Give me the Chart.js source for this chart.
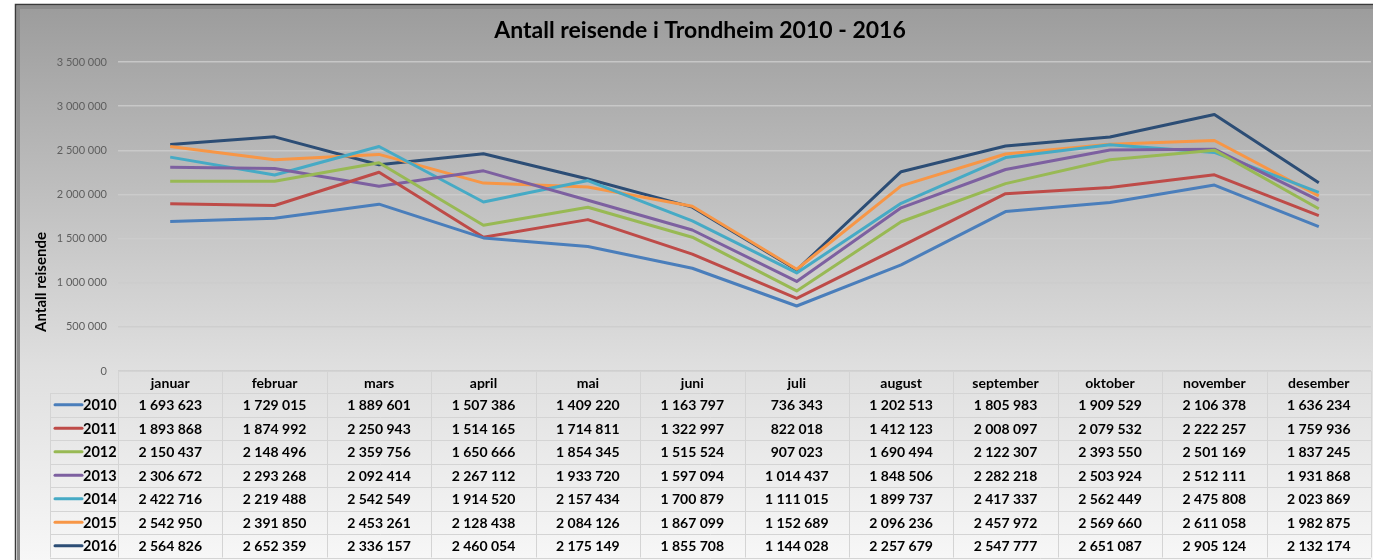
<!DOCTYPE html>
<html>
<head>
<meta charset="utf-8">
<script src="https://cdn.jsdelivr.net/npm/chart.js@4.4.1/dist/chart.umd.min.js"></script>
<style>
  html, body { margin: 0; padding: 0; background: #fff; }
  #wrap { width: 1373px; height: 560px; position: relative; }
</style>
</head>
<body>
<div id="wrap"><canvas id="reiseChart"></canvas></div>
<script>
const months = ["januar", "februar", "mars", "april", "mai", "juni", "juli", "august", "september", "oktober", "november", "desember"];
const years = ["2010", "2011", "2012", "2013", "2014", "2015", "2016"];

const y2010 = [1693623, 1729015, 1889601, 1507386, 1409220, 1163797, 736343, 1202513, 1805983, 1909529, 2106378, 1636234];
const y2011 = [1893868, 1874992, 2250943, 1514165, 1714811, 1322997, 822018, 1412123, 2008097, 2079532, 2222257, 1759936];
const y2012 = [2150437, 2148496, 2359756, 1650666, 1854345, 1515524, 907023, 1690494, 2122307, 2393550, 2501169, 1837245];
const y2013 = [2306672, 2293268, 2092414, 2267112, 1933720, 1597094, 1014437, 1848506, 2282218, 2503924, 2512111, 1931868];
const y2014 = [2422716, 2219488, 2542549, 1914520, 2157434, 1700879, 1111015, 1899737, 2417337, 2562449, 2475808, 2023869];
const y2015 = [2542950, 2391850, 2453261, 2128438, 2084126, 1867099, 1152689, 2096236, 2457972, 2569660, 2611058, 1982875];
const y2016 = [2564826, 2652359, 2336157, 2460054, 2175149, 1855708, 1144028, 2257679, 2547777, 2651087, 2905124, 2132174];

const seriesValues = [y2010, y2011, y2012, y2013, y2014, y2015, y2016];
const seriesColors = ["#4a7ebb", "#be4b48", "#98b954", "#7d60a0", "#46aac5", "#f79646", "#2c4d75"];

const chartTitle = "Antall reisende i Trondheim 2010 - 2016";
const fontFam = "Lato, 'Open Sans', sans-serif";

function fmt(n) {
  return String(n).replace(/\B(?=(\d{3})+(?!\d))/g, " ");
}

// frame + gradient background
const backdrop = {
  id: "backdrop",
  beforeDraw(chart) {
    const ctx = chart.ctx;
    ctx.save();
    ctx.fillStyle = "#ffffff";
    ctx.fillRect(0, 0, chart.width, chart.height);
    const g = ctx.createLinearGradient(0, 6, 0, chart.height);
    g.addColorStop(0, "#9c9c9c");
    g.addColorStop(0.65, "#dfdfdf");
    g.addColorStop(1, "#f7f7f7");
    ctx.fillStyle = g;
    ctx.fillRect(16, 5, chart.width - 16, chart.height - 5);
    ctx.strokeStyle = "#3a3a3a";
    ctx.lineWidth = 1.5;
    ctx.beginPath();
    ctx.moveTo(15.5, chart.height);
    ctx.lineTo(15.5, 4.5);
    ctx.lineTo(chart.width, 4.5);
    ctx.stroke();
    ctx.strokeStyle = "#8c8c8c";
    ctx.lineWidth = 3;
    ctx.beginPath();
    ctx.moveTo(18.5, chart.height);
    ctx.lineTo(18.5, 7.5);
    ctx.lineTo(chart.width, 7.5);
    ctx.stroke();

    // title, centred over the frame
    ctx.fillStyle = "#000";
    ctx.font = "bold 23px " + fontFam;
    ctx.textAlign = "center";
    ctx.textBaseline = "middle";
    ctx.fillText(chartTitle, 700, 31);
    ctx.restore();
  }
};

// axis title + data table under the plot
const dataTable = {
  id: "dataTable",
  afterDraw(chart) {
    const ctx = chart.ctx;
    const area = chart.chartArea;
    const xs = chart.scales.x;
    const colW = (area.right - area.left) / months.length;
    const headTop = area.bottom;
    const headH = 22;
    const rowH = 23.5;
    const legLeft = 50;
    const bottom = headTop + headH + rowH * years.length;

    ctx.save();
    // y axis title
    ctx.translate(41, 282);
    ctx.rotate(-Math.PI / 2);
    ctx.fillStyle = "#000";
    ctx.font = "bold 15px " + fontFam;
    ctx.textAlign = "center";
    ctx.textBaseline = "middle";
    ctx.fillText("Antall reisende", 0, 0);
    ctx.restore();

    ctx.save();
    ctx.strokeStyle = "#d4d4d4";
    ctx.lineWidth = 1;
    ctx.beginPath();
    ctx.moveTo(area.left, headTop + 0.5);
    ctx.lineTo(area.right, headTop + 0.5);
    for (let r = 0; r <= years.length; r++) {
      const y = Math.round(headTop + headH + r * rowH) + 0.5;
      ctx.moveTo(legLeft, y);
      ctx.lineTo(area.right, y);
    }
    for (let c = 0; c <= months.length; c++) {
      const x = Math.round(area.left + c * colW) + 0.5;
      ctx.moveTo(x, headTop);
      ctx.lineTo(x, bottom);
    }
    ctx.moveTo(legLeft + 0.5, headTop + headH);
    ctx.lineTo(legLeft + 0.5, bottom);
    ctx.stroke();

    ctx.fillStyle = "#000";
    ctx.textAlign = "center";
    ctx.textBaseline = "middle";
    ctx.font = "bold 14px " + fontFam;
    months.forEach((m, i) => {
      ctx.fillText(m, xs.getPixelForValue(i), headTop + headH / 2 + 1);
    });

    seriesValues.forEach((vals, r) => {
      const cy = headTop + headH + r * rowH + rowH / 2 + 1;
      ctx.font = "bold 14px " + fontFam;
      ctx.textAlign = "center";
      vals.forEach((v, i) => {
        ctx.fillText(fmt(v), xs.getPixelForValue(i), cy);
      });
      // legend key
      ctx.strokeStyle = seriesColors[r];
      ctx.lineWidth = 3;
      ctx.lineCap = "round";
      ctx.beginPath();
      ctx.moveTo(55, cy - 1);
      ctx.lineTo(82, cy - 1);
      ctx.stroke();
      ctx.font = "bold 14.5px " + fontFam;
      ctx.textAlign = "left";
      ctx.fillText(years[r], 83, cy);
    });
    ctx.restore();
  }
};

const datasets = years.map((yr, i) => ({
  label: yr,
  data: seriesValues[i],
  borderColor: seriesColors[i],
  backgroundColor: seriesColors[i],
  borderWidth: 3,
  pointRadius: 0,
  tension: 0,
  borderJoinStyle: "round",
}));

new Chart(document.getElementById("reiseChart").getContext("2d"), {
  type: "line",
  data: { labels: months, datasets: datasets },
  options: {
    responsive: true,
    maintainAspectRatio: false,
    animation: false,
    layout: { padding: { left: 0, right: 2, top: 62, bottom: 189 } },
    plugins: {
      legend: { display: false },
      tooltip: { enabled: false },
      title: { display: false },
    },
    scales: {
      x: {
        display: false,
        offset: true,
      },
      y: {
        min: 0,
        max: 3500000,
        afterFit(scale) { scale.width = 118; },
        border: { display: false },
        grid: { color: "rgba(205,205,205,0.85)", lineWidth: 1.5, drawTicks: false },
        ticks: {
          stepSize: 500000,
          padding: 11,
          color: "#5e5e5e",
          font: { family: fontFam, size: 11 },
          callback: (v) => fmt(v),
        },
      },
    },
  },
  plugins: [backdrop, dataTable],
});
</script>
</body>
</html>
